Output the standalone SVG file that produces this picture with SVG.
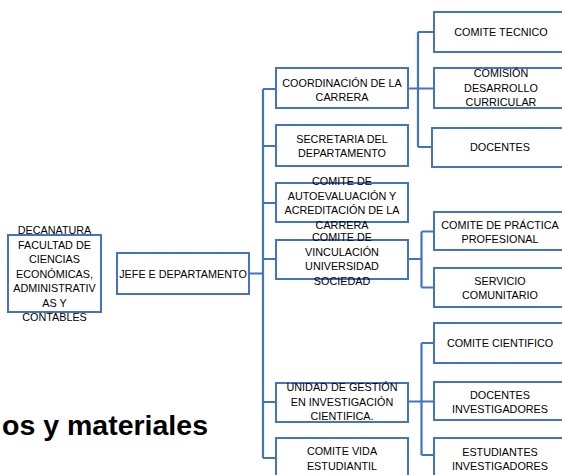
<svg xmlns="http://www.w3.org/2000/svg" width="562" height="475" viewBox="0 0 562 475">
<style>
.box{fill:#fff;stroke:#4472C4;stroke-width:2}
.t{font-family:"Liberation Sans",Arial,sans-serif;font-size:10.8px;fill:#000;text-anchor:middle}
.c{fill:none;stroke:#4472C4;stroke-width:2.2}
.big{font-family:"Liberation Sans",Arial,sans-serif;font-weight:bold;font-size:28.5px;fill:#000}
</style>
<rect width="562" height="475" fill="#fff"/>
<g id="connectors">
<path class="c" d="M249,273.5H263M263,89V458M263,89H276M263,146H276M263,203H276M263,259H276M263,402H276M263,458H276"/>
<path class="c" d="M408,88.5H434M418,32V147M418,32H434M418,147H432"/>
<path class="c" d="M408,259H421.5M421.5,231.5V287.5M421.5,231.5H434M421.5,287.5H434"/>
<path class="c" d="M408,401.5H434M421.5,343V455M421.5,343H434M421.5,455H434"/>
</g>
<g id="decanatura">
<rect class="box" x="8" y="235" width="93" height="77"/>
<text class="t" x="54.5" y="234">DECANATURA</text>
<text class="t" x="54.5" y="248.5">FACULTAD DE</text>
<text class="t" x="54.5" y="263">CIENCIAS</text>
<text class="t" x="54.5" y="277.5">ECONÓMICAS,</text>
<text class="t" x="54.5" y="292">ADMINISTRATIV</text>
<text class="t" x="54.5" y="306.5">AS Y</text>
<text class="t" x="54.5" y="321">CONTABLES</text>
</g>
<g id="jefe">
<rect class="box" x="117" y="253" width="132" height="41"/>
<text class="t" x="183" y="277.5">JEFE E DEPARTAMENTO</text>
</g>
<g id="coordinacion">
<rect class="box" x="276" y="68" width="132" height="40"/>
<text class="t" x="342" y="86.5">COORDINACIÓN DE LA</text>
<text class="t" x="342" y="100.5">CARRERA</text>
</g>
<g id="secretaria">
<rect class="box" x="276" y="125" width="132" height="41"/>
<text class="t" x="342" y="143">SECRETARIA DEL</text>
<text class="t" x="342" y="157">DEPARTAMENTO</text>
</g>
<g id="autoevaluacion">
<rect class="box" x="276" y="183" width="132" height="39"/>
<text class="t" x="342" y="185">COMITE DE</text>
<text class="t" x="342" y="199.5">AUTOEVALUACIÓN Y</text>
<text class="t" x="342" y="214">ACREDITACIÓN DE LA</text>
<text class="t" x="342" y="228.5">CARRERA</text>
</g>
<g id="vinculacion">
<rect class="box" x="276" y="240" width="132" height="39"/>
<text class="t" x="342" y="241">COMITE DE</text>
<text class="t" x="342" y="255.5">VINCULACIÓN</text>
<text class="t" x="342" y="270">UNIVERSIDAD</text>
<text class="t" x="342" y="284.5">SOCIEDAD</text>
</g>
<g id="unidad">
<rect class="box" x="276" y="383" width="132" height="39"/>
<text class="t" x="342" y="391">UNIDAD DE GESTIÓN</text>
<text class="t" x="342" y="405.5">EN INVESTIGACIÓN</text>
<text class="t" x="342" y="420">CIENTIFICA.</text>
</g>
<g id="vida">
<rect class="box" x="276" y="438" width="132" height="40"/>
<text class="t" x="342" y="455">COMITE VIDA</text>
<text class="t" x="342" y="470">ESTUDIANTIL</text>
</g>
<g id="tecnico">
<rect class="box" x="434" y="12" width="135" height="40"/>
<text class="t" x="501" y="36">COMITE TECNICO</text>
</g>
<g id="comision">
<rect class="box" x="434" y="68" width="135" height="40"/>
<text class="t" x="501" y="76.5">COMISIÓN</text>
<text class="t" x="501" y="91.5">DESARROLLO</text>
<text class="t" x="501" y="106">CURRICULAR</text>
</g>
<g id="docentes">
<rect class="box" x="432" y="128" width="137" height="39"/>
<text class="t" x="500" y="151">DOCENTES</text>
</g>
<g id="practica">
<rect class="box" x="434" y="212" width="135" height="38"/>
<text class="t" x="500" y="229">COMITE DE PRÁCTICA</text>
<text class="t" x="500" y="243">PROFESIONAL</text>
</g>
<g id="servicio">
<rect class="box" x="434" y="268" width="135" height="39"/>
<text class="t" x="500" y="285">SERVICIO</text>
<text class="t" x="500" y="298.5">COMUNITARIO</text>
</g>
<g id="cientifico">
<rect class="box" x="434" y="323" width="135" height="40"/>
<text class="t" x="500" y="347">COMITE CIENTIFICO</text>
</g>
<g id="docentes-inv">
<rect class="box" x="434" y="382" width="135" height="38"/>
<text class="t" x="500" y="398.5">DOCENTES</text>
<text class="t" x="500" y="412.5">INVESTIGADORES</text>
</g>
<g id="estudiantes">
<rect class="box" x="434" y="438" width="135" height="40"/>
<text class="t" x="500" y="455.5">ESTUDIANTES</text>
<text class="t" x="500" y="469.5">INVESTIGADORES</text>
</g>
<text class="big" x="208" y="435" text-anchor="end">os y materiales</text>
</svg>
